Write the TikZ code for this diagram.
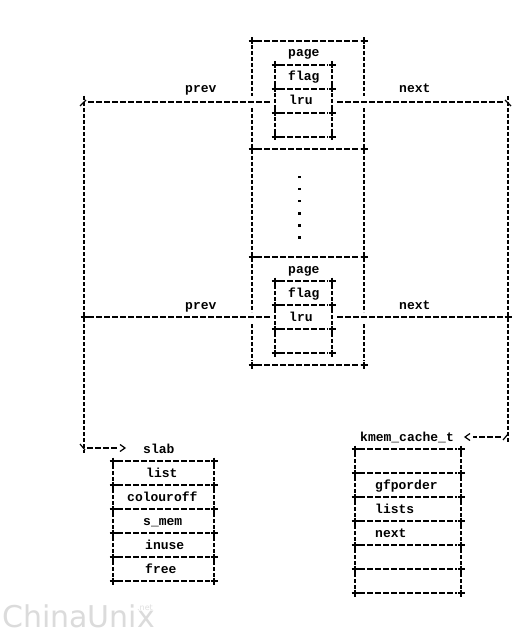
\documentclass[tikz,border=0pt]{standalone}
\usepackage{fontspec}
\setmonofont{Liberation Mono}
\newfontfamily\wmfont{DejaVu Sans}
\begin{document}
\begin{tikzpicture}[x=1pt,y=-1pt,
  hl/.style={line width=1.2pt, dash pattern=on 6pt off 2pt},
  vl/.style={line width=1.8pt, dash pattern=on 4pt off 2pt},
  sl/.style={line width=1.2pt},
  lbl/.style={font=\ttfamily\bfseries\fontsize{13}{13}\selectfont, inner sep=0pt, anchor=base west},
  pluspic/.pic={\draw[line width=1.2pt] (-3.5,0)--(3.5,0); \draw[line width=1.6pt] (0,-3.5)--(0,3.5);}
]
\useasboundingbox (0,0) rectangle (520,636);
\fill[white] (0,0) rectangle (520,636);

% ---- page column: outer boxes
\foreach \y in {41,149,257,365} {
  \draw[hl] (256,\y) -- (360,\y);
  \pic at (252,\y) {pluspic}; \pic at (364,\y) {pluspic};
}
\foreach \x in {252,364} {
  \draw[vl] (\x,45) -- (\x,96);
  \draw[vl] (\x,108) -- (\x,312);
  \draw[vl] (\x,324) -- (\x,361);
}
% inner boxes
\foreach \y in {65,89,113,137,281,305,329,353} {
  \draw[hl] (279,\y) -- (328,\y);
  \pic at (275,\y) {pluspic}; \pic at (332,\y) {pluspic};
}
\foreach \x in {275,332} {
  \draw[vl] (\x,69) -- (\x,133);
  \draw[vl] (\x,285) -- (\x,349);
}
% dots
\foreach \y in {176,188,200,212,224,236} \fill (297.5,\y) rectangle +(3,2.5);

% labels in page column
\node[lbl] (page1) at (288,57) {page};
\node[lbl] (flag1) at (288,81) {flag};
\node[lbl] (lru1)  at (289,105) {lru};
\node[lbl] (prev1) at (185,93) {prev};
\node[lbl] (next1) at (399,93) {next};
\node[lbl] (page2) at (288,273) {page};
\node[lbl] (flag2) at (288,297) {flag};
\node[lbl] (lru2)  at (289,321) {lru};
\node[lbl] (prev2) at (185,309) {prev};
\node[lbl] (next2) at (399,309) {next};

% ---- list links
\coordinate (tlc) at (84,102);
\coordinate (trc) at (508,102);
\coordinate (ml) at (84,317);
\coordinate (mr) at (508,317);
\coordinate (blc) at (84,448);
\coordinate (brc) at (508,437);
\coordinate (lin1) at (270,102);
\coordinate (rin1) at (337,102);
\coordinate (lin2) at (270,317);
\coordinate (rin2) at (337,317);
\coordinate (slabarr) at (125,448);
\coordinate (kmemarr) at (465,437);

\draw[hl] ([xshift=4pt]tlc) -- (lin1);
\draw[hl] (rin1) -- ([xshift=-4pt]trc);
\draw[sl] ([shift={(-4,4)}]tlc) -- ([shift={(2,-2)}]tlc);
\draw[sl] ([shift={(-3,-2)}]trc) -- ([shift={(3,4)}]trc);

\draw[hl] ([xshift=4pt]ml) -- (lin2);
\draw[hl] (rin2) -- ([xshift=-4pt]mr);
\pic at (ml) {pluspic};
\pic at (mr) {pluspic};

\draw[vl] ([yshift=6pt]tlc) -- ([yshift=-4pt]ml);
\draw[vl] ([yshift=5pt]ml) -- ([yshift=-5pt]blc);
\draw[vl] ([yshift=6pt]trc) -- ([yshift=-4pt]mr);
\draw[vl] ([yshift=5pt]mr) -- ([yshift=-6pt]brc);

\draw[sl] ([shift={(-4,-4)}]blc) -- ([shift={(1,2)}]blc);
\draw[hl] ([xshift=3pt]blc) -- ([xshift=-8pt]slabarr);
\draw[sl] ([shift={(-5,-3.5)}]slabarr) -- (slabarr) -- ([shift={(-5,3.5)}]slabarr);

\draw[sl] ([shift={(-5,3)}]brc) -- ([shift={(0,-3)}]brc);
\draw[hl] ([xshift=-7pt]brc) -- ([xshift=8pt]kmemarr);
\draw[sl] ([shift={(5,-3.5)}]kmemarr) -- (kmemarr) -- ([shift={(5,3.5)}]kmemarr);

% ---- slab box
\foreach \y in {461,485,509,533,557,581} {
  \draw[hl] (117,\y) -- (210,\y);
  \pic at (113,\y) {pluspic}; \pic at (214,\y) {pluspic};
}
\foreach \x in {113,214} \draw[vl] (\x,465) -- (\x,577);
\node[lbl] (slab) at (143,453) {slab};
\node[lbl] (list) at (146,477) {list};
\node[lbl] (colouroff) at (127,501) {colouroff};
\node[lbl] (smem) at (143,525) {s\_mem};
\node[lbl] (inuse) at (145,549) {inuse};
\node[lbl] (free) at (145,573) {free};

% ---- kmem_cache_t box
\foreach \y in {449,473,497,521,545,569,593} {
  \draw[hl] (359,\y) -- (457,\y);
  \pic at (355,\y) {pluspic}; \pic at (461,\y) {pluspic};
}
\foreach \x in {355,461} \draw[vl] (\x,453) -- (\x,589);
\node[lbl] (kmem) at (360,441) {kmem\_cache\_t};
\node[lbl] (gfporder) at (375,489) {gfporder};
\node[lbl] (lists) at (375,513) {lists};
\node[lbl] (knext) at (375,537) {next};

% ---- watermark
\node[font=\wmfont\fontsize{30}{30}\selectfont, text=black!14, anchor=base west, inner sep=0pt] (wm) at (2,627) {ChinaUnix};
\node[font=\wmfont\fontsize{8}{8}\selectfont, text=black!12, anchor=base west, inner sep=0pt] (wmnet) at (137,610) {.net};
\end{tikzpicture}
\end{document}
